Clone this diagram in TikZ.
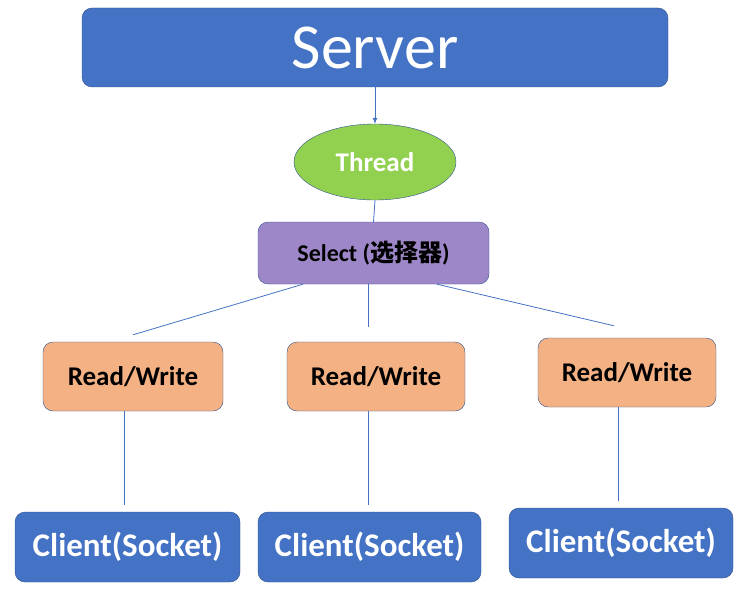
\documentclass[tikz,border=0pt]{standalone}
\usepackage{fontspec}
\setmainfont{Carlito}
\newfontfamily\cjk{Noto Sans CJK SC}
\usepackage{tikz}
\usetikzlibrary{positioning,arrows.meta,shapes.geometric}

\definecolor{boxblue}{HTML}{4472C4}
\definecolor{edgeblue}{HTML}{2F528F}
\definecolor{threadgreen}{HTML}{92D050}
\definecolor{selpurple}{HTML}{9E87C8}
\definecolor{rworange}{HTML}{F4B183}

\begin{document}
\begin{tikzpicture}[x=1pt,y=-1pt,
		box/.style={draw=edgeblue,rounded corners=10pt,minimum height=69pt,align=center},
		bluebox/.style={box,fill=boxblue,text=white,font=\bfseries\fontsize{33}{36}\selectfont},
		rwbox/.style={box,fill=rworange,text=black,minimum width=180pt,font=\bfseries\fontsize{27}{30}\selectfont},
		link/.style={draw=boxblue,line width=0.8pt}]
		\useasboundingbox (0,0) rectangle (754,591);

		\node[box,fill=boxblue,text=white,minimum width=586pt,minimum height=79pt,font=\fontsize{64}{68}\selectfont] (server) at (375,47.5) {Server};
		\node[ellipse,draw=edgeblue,fill=threadgreen,text=white,minimum width=162pt,minimum height=76pt,inner sep=0pt,font=\bfseries\fontsize{27}{30}\selectfont] (thread) at (375,162) {Thread};
		\node[box,fill=selpurple,minimum width=231pt,minimum height=62pt,font=\bfseries\fontsize{24}{28}\selectfont] (select) at (373.5,253) {Select ({\cjk 选择器})};

		\node[rwbox] (rw1) at (133,376.5) {Read/Write};
		\node[rwbox,minimum width=178pt] (rw2) at (376,376.5) {Read/Write};
		\node[rwbox,minimum width=178pt] (rw3) at (627,372.5) {Read/Write};

		\node[bluebox,minimum width=225pt,minimum height=70pt] (cl1) at (127.5,547) {Client(Socket)};
		\node[bluebox,minimum width=223pt,minimum height=70pt] (cl2) at (369.5,547) {Client(Socket)};
		\node[bluebox,minimum width=224pt,minimum height=70pt] (cl3) at (621,543) {Client(Socket)};

		\draw[link,-{Latex[length=6pt,width=5pt]}] (server) -- (thread);
		\draw[link] (thread.south) -- (select.north);

		\draw[link] ([xshift=-70.5pt]select.south) -- ([shift={(0,-7)}]rw1.north);
		\draw[link] ([xshift=-5.5pt]select.south) -- ([shift={(-8,-15)}]rw2.north);
		\draw[link] ([xshift=63.5pt]select.south) -- ([shift={(-13,-12)}]rw3.north);

		\draw[link,shorten >=7pt] ([xshift=-9pt]rw1.south) -- ([xshift=-9pt]rw1.south |- cl1.north);
		\draw[link,shorten >=7pt] ([xshift=-8pt]rw2.south) -- ([xshift=-8pt]rw2.south |- cl2.north);
		\draw[link,shorten >=7pt] ([xshift=-9pt]rw3.south) -- ([xshift=-9pt]rw3.south |- cl3.north);
	\end{tikzpicture}
\end{document}
